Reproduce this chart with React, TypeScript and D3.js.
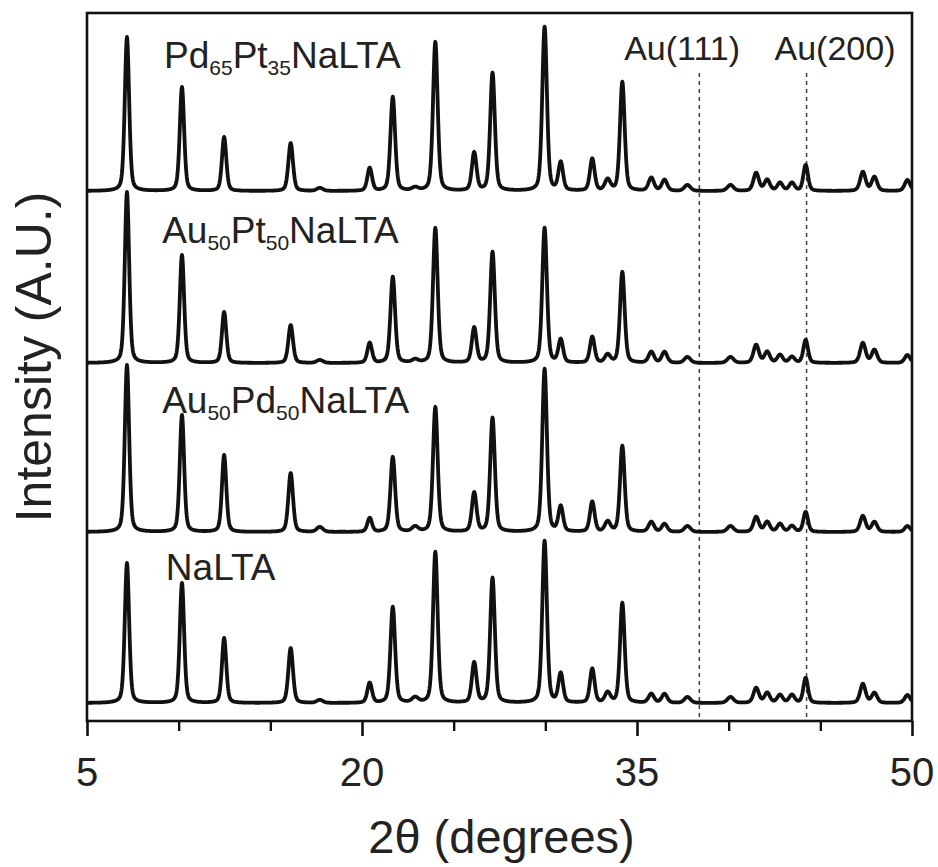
import React from "react";
import * as d3 from "d3";

// ---- Data ----
const peakPositions = [7.18, 10.18, 12.48, 16.11, 17.7, 20.42, 21.68, 22.9, 24.0, 26.12, 27.12, 29.96, 30.84, 32.56, 33.4, 34.2, 35.78, 36.5, 37.75, 40.1, 41.5, 42.1, 42.8, 43.45, 44.2, 47.32, 47.95, 49.75];
const peakWidths = [0.28, 0.28, 0.28, 0.3, 0.4, 0.3, 0.3, 0.4, 0.3, 0.3, 0.3, 0.3, 0.3, 0.3, 0.35, 0.3, 0.35, 0.35, 0.4, 0.4, 0.35, 0.35, 0.35, 0.35, 0.3, 0.35, 0.35, 0.35];

const seriesNames = ["NaLTA", "Au50Pd50NaLTA", "Au50Pt50NaLTA", "Pd65Pt35NaLTA"];
const seriesOffsets = [0, 171, 340, 512];
const heightsNaLTA = [140, 120, 65, 55, 3, 20, 96, 5, 151, 40, 125, 162, 29, 34, 10, 100, 9, 9, 6, 6, 15, 10, 8, 8, 25, 19, 10, 8];
const heightsAuPd = [167, 117, 77, 59, 5, 14, 75, 5, 125, 39, 114, 163, 25, 30, 10, 86, 10, 8, 6, 6, 15, 10, 8, 6, 20, 16, 10, 6];
const heightsAuPt = [171, 108, 51, 38, 3, 20, 86, 3, 135, 35, 111, 135, 23, 26, 8, 91, 11, 11, 6, 6, 18, 11, 8, 6, 23, 20, 13, 8];
const heightsPdPt = [154, 104, 54, 48, 3, 23, 94, 3, 149, 38, 118, 164, 28, 32, 11, 109, 13, 11, 6, 6, 18, 11, 8, 8, 26, 19, 14, 11];
const seriesHeights = [heightsNaLTA, heightsAuPd, heightsAuPt, heightsPdPt];

// label parts: text, isSubscript
const seriesLabels: [string, boolean][][] = [
  [["NaLTA", false]],
  [["Au", false], ["50", true], ["Pd", false], ["50", true], ["NaLTA", false]],
  [["Au", false], ["50", true], ["Pt", false], ["50", true], ["NaLTA", false]],
  [["Pd", false], ["65", true], ["Pt", false], ["35", true], ["NaLTA", false]],
];
const labelX = [9.3, 9.1, 9.1, 9.2];
// label heights above each series baseline (intensity units)
const labelLift = [123, 119, 120, 123];

const refLines = [38.4, 44.25];
const refNames = ["Au(111)", "Au(200)"];
const refLabelX = [34.3, 42.5];

const majorTicks = [5, 20, 35, 50];
const minorTicks = [10, 15, 25, 30, 40, 45];

// ---- Layout ----
const W = 938, H = 867;
const left = 87, right = 912, top = 13, bottom = 721;

function profile(x: number, heights: number[]) {
  let s = 0;
  const eta = 0.35;
  for (let i = 0; i < peakPositions.length; i++) {
    const w = peakWidths[i] / 2;
    const u = (x - peakPositions[i]) / w;
    const u2 = u * u;
    if (u2 > 400) continue;
    s += heights[i] * (eta / (1 + u2) + (1 - eta) * Math.exp(-Math.LN2 * u2));
  }
  return s;
}

export default function App() {
  const x = d3.scaleLinear().domain([5, 50]).range([left, right]);
  const y = d3.scaleLinear().domain([0, 690]).range([703, 13]);
  const xs = d3.range(5, 50.0001, 0.02);
  const line = d3.line<[number, number]>().x(d => x(d[0])).y(d => y(d[1]));

  const font = "'Liberation Sans', Arial, sans-serif";

  return (
    <svg width={W} height={H} style={{ position: "absolute", left: 0, top: 0, background: "#fff" }} fontFamily={font}>
      <defs>
        <clipPath id="plot">
          <rect x={left} y={top} width={right - left} height={bottom - top} />
        </clipPath>
      </defs>
      {/* reference dashed lines */}
      {refLines.map((v, i) => (
        <line key={"r" + i} x1={x(v)} x2={x(v)} y1={73} y2={bottom} stroke="#444" strokeWidth={1.5} strokeDasharray="4,4" />
      ))}
      {refNames.map((t, i) => (
        <text key={"rn" + i} x={x(refLabelX[i])} y={60} fontSize={34} fill="#222">{t}</text>
      ))}
      {/* traces */}
      <g clipPath="url(#plot)">
        {seriesHeights.map((h, si) => {
          const pts: [number, number][] = xs.map(v => [v, seriesOffsets[si] + profile(v, h)]);
          return <path key={si} d={line(pts) || ""} fill="none" stroke="#111" strokeWidth={3.8} strokeLinejoin="round" />;
        })}
      </g>
      {/* series labels */}
      {seriesLabels.map((parts, si) => (
        <text key={"l" + si} x={x(labelX[si])} y={y(seriesOffsets[si] + labelLift[si])} fontSize={37} fill="#222">
          {parts.map((p, j) => (
            <tspan key={j} fontSize={p[1] ? 21 : 37} dy={p[1] ? 7 : (j > 0 ? -7 : 0)}>{p[0]}</tspan>
          ))}
        </text>
      ))}
      {/* frame */}
      <rect x={left} y={top} width={right - left} height={bottom - top} fill="none" stroke="#111" strokeWidth={2.6} />
      {/* x axis */}
      <g ref={el => {
        if (!el) return;
        const g = d3.select(el);
        g.selectAll("*").remove();
        g.append("g").call(d3.axisBottom(x).tickValues(majorTicks).tickSize(15).tickFormat(() => ""))
          .call(s => s.select(".domain").remove())
          .call(s => s.selectAll("line").attr("stroke", "#111").attr("stroke-width", 2.6));
        g.append("g").call(d3.axisBottom(x).tickValues(minorTicks).tickSize(10).tickFormat(() => ""))
          .call(s => s.select(".domain").remove())
          .call(s => s.selectAll("line").attr("stroke", "#111").attr("stroke-width", 2.4));
      }} transform={`translate(0,${bottom})`} />
      {majorTicks.map(t => (
        <text key={"t" + t} x={x(t)} y={786} fontSize={40} textAnchor="middle" fill="#222">{t}</text>
      ))}
      <text x={(left + right) / 2 + 2} y={853} fontSize={47} textAnchor="middle" fill="#222">2θ (degrees)</text>
      <text transform={`translate(51,357) rotate(-90)`} fontSize={50} textAnchor="middle" fill="#222">Intensity (A.U.)</text>
    </svg>
  );
}
